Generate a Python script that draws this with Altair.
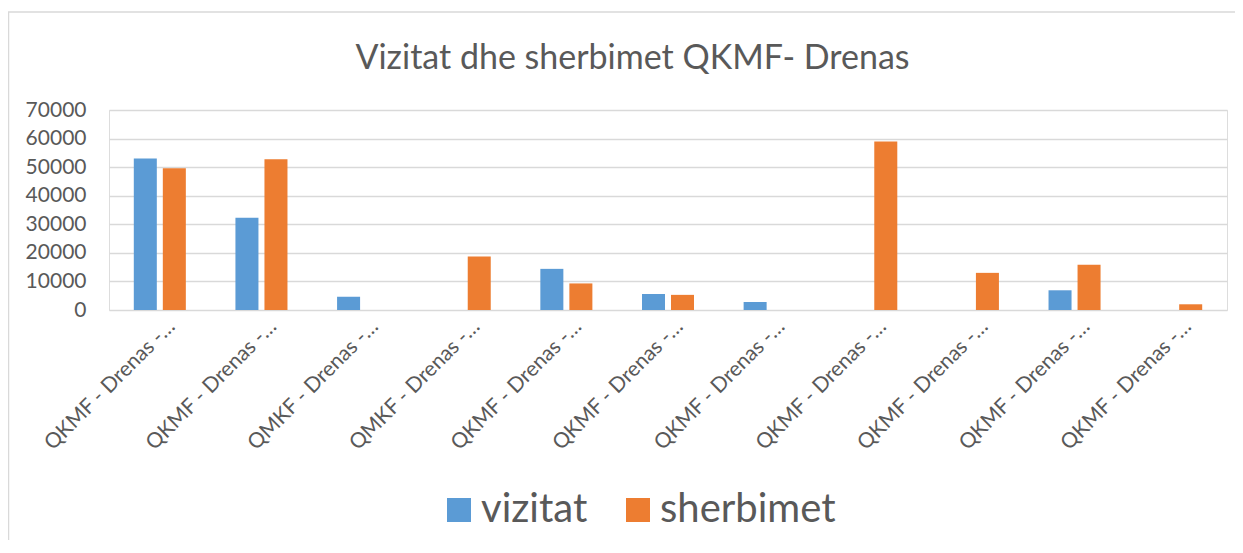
import altair as alt
import pandas as pd

# ---- data ----
category_labels = [
    "QKMF - Drenas -…", "QKMF - Drenas -…", "QMKF - Drenas -…", "QMKF - Drenas -…",
    "QKMF - Drenas -…", "QKMF - Drenas -…", "QKMF - Drenas -…", "QKMF - Drenas -…",
    "QKMF - Drenas -…", "QKMF - Drenas -…", "QKMF - Drenas -…",
]
vizitat = [53000, 32300, 4600, 0, 14400, 5600, 2800, 0, 0, 6900, 0]
sherbimet = [49600, 52800, 0, 18700, 9300, 5300, 0, 59000, 13000, 15800, 2000]
series_names = ["vizitat", "sherbimet"]
series_colors = ["#5B9BD5", "#ED7D31"]
y_ticks = [0, 10000, 20000, 30000, 40000, 50000, 60000, 70000]
title_text = "Vizitat dhe sherbimet QKMF- Drenas"

rows = []
for i, lab in enumerate(category_labels):
    rows.append({"idx": i, "seri": "vizitat", "vlera": vizitat[i]})
    rows.append({"idx": i, "seri": "sherbimet", "vlera": sherbimet[i]})
df = pd.DataFrame(rows)

label_expr = "[" + ",".join('"' + l + '"' for l in category_labels) + "][datum.value]"

FONT = "Lato"
TXT = "#595959"
W, H = 1118, 200

bars = alt.Chart(df).mark_bar(strokeWidth=0).encode(
    x=alt.X("idx:O", title=None,
            scale=alt.Scale(paddingInner=0.488, paddingOuter=0.244),
            axis=alt.Axis(labelExpr=label_expr, labelAngle=-45, labelAlign="right",
                          labelBaseline="middle", labelFontSize=21, labelColor=TXT,
                          labelFont=FONT, ticks=False, domain=False, labelPadding=13,
                          labelOffset=12, labelLimit=0)),
    xOffset=alt.XOffset("seri:N", sort=series_names,
                        scale=alt.Scale(paddingInner=0.207, paddingOuter=0)),
    y=alt.Y("vlera:Q", title=None,
            scale=alt.Scale(domain=[0, 70000], nice=False),
            axis=alt.Axis(values=y_ticks, format="d", labelFontSize=21, labelColor=TXT,
                          labelFont=FONT, ticks=False, domain=False, labelPadding=23,
                          gridColor="#D9D9D9", gridWidth=1.3)),
    color=alt.Color("seri:N", sort=series_names,
                    scale=alt.Scale(domain=series_names, range=series_colors),
                    legend=alt.Legend(title=None, orient="none", direction="horizontal",
                                      legendX=330, legendY=380, symbolType="square",
                                      symbolSize=576, symbolStrokeWidth=0,
                                      labelFontSize=40, labelFont=FONT, labelColor=TXT,
                                      labelOffset=2, columnPadding=30, padding=0,
                                      labelLimit=0)),
)

frame = alt.Chart(pd.DataFrame({"a": [0]})).mark_rect(
    fill=None, stroke="#D9D9D9", strokeWidth=1.5
).encode(x=alt.value(-100.5), x2=alt.value(1300), y=alt.value(-98), y2=alt.value(600))

title = alt.Chart(pd.DataFrame({"t": [title_text]})).mark_text(
    font=FONT, fontSize=34, color=TXT, align="center", baseline="alphabetic"
).encode(text="t:N", x=alt.value(523.5), y=alt.value(-41))

chart = alt.layer(frame, bars, title).properties(
    width=W, height=H,
    autosize=alt.AutoSizeParams(type="none"),
    padding={"left": 101, "top": 102, "right": 8, "bottom": 230},
).configure_view(stroke=None).configure(background="white")

chart.save("out.html", embed_options={"renderer": "svg", "actions": False})
